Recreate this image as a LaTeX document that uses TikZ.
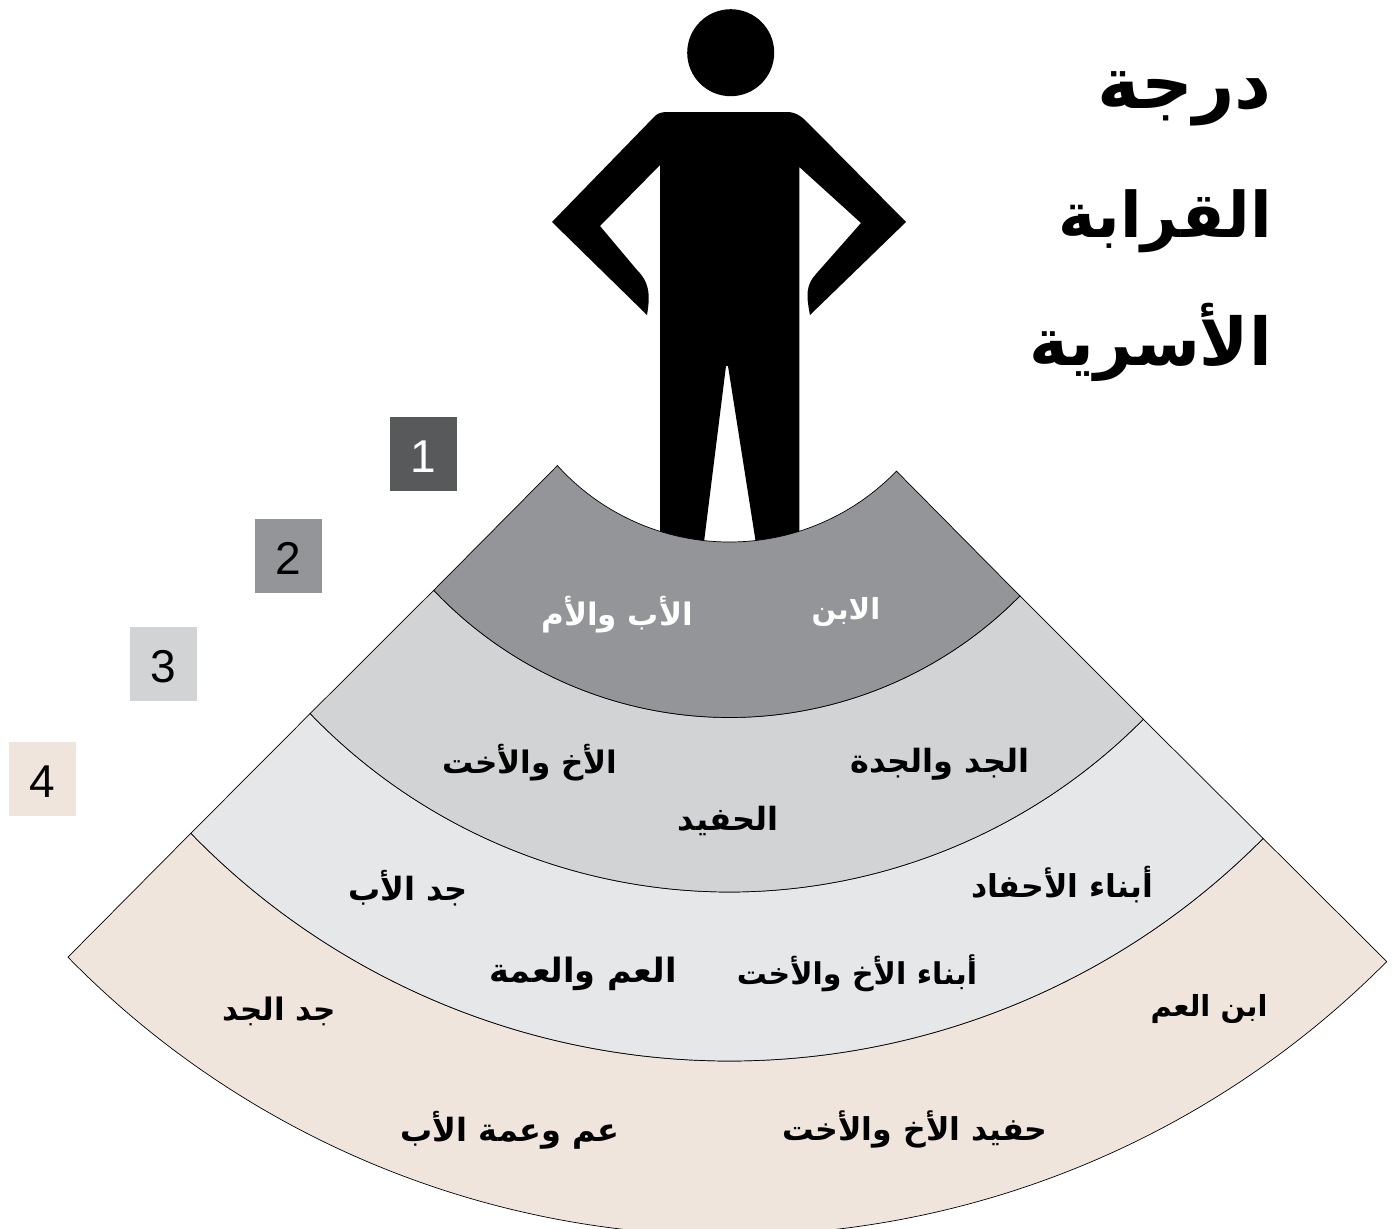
\documentclass[tikz,border=0pt]{standalone}
\usepackage{fontspec}
\setmainfont{Liberation Sans}
\newfontfamily\arabicfont[Script=Arabic]{DejaVu Sans}
\TeXXeTstate=1
\newcommand{\artxt}[1]{{\arabicfont\bfseries\beginR #1\endR}}
\definecolor{bandA}{HTML}{939598}
\definecolor{bandB}{HTML}{D1D3D4}
\definecolor{bandC}{HTML}{E6E7E8}
\definecolor{bandD}{HTML}{EFE5DC}
\definecolor{boxA}{HTML}{58595B}
\newcommand{\fanband}[7]{%
  \path[bandline,fill=#1] (#2:#4) arc[start angle=#2,end angle=#3,radius=#4 pt]
    -- (#6:#7) arc[start angle=#6,end angle=#5,radius=#7 pt] -- cycle;}
\tikzset{
  bandline/.style={draw=black,line width=0.7pt,line join=miter},
  numbox/.style={minimum width=67pt,minimum height=74pt,inner sep=0pt,text height=36pt,text depth=0pt,font=\fontsize{46}{46}\selectfont},
  lab/.style={inner sep=0pt,font=\fontsize{#1}{#1}\selectfont},
  titleline/.style={inner sep=0pt,anchor=base east,font=\fontsize{#1}{#1}\selectfont}
}
\begin{document}
\begin{tikzpicture}[x=1pt,y=1pt,yscale=-1]
\useasboundingbox (0,0) rectangle (1393,1229);
\fill[white] (0,0) rectangle (1393,1229);
% silhouette
\fill[black] (730.7,52.7) circle[radius=43.5pt];
\fill[black] (668,112) -- (787,112) .. controls (797,112) and (803,118) .. (808,123)
  -- (906,222) -- (810,315) .. controls (806,295) and (806,285) .. (816,274)
  -- (861,223) -- (799.3,167) -- (799.3,550) -- (757,550) -- (728,366) -- (726,366)
  -- (703,550) -- (660,550) -- (660,165) -- (600,226) -- (637,270)
  .. controls (648,281) and (651,292) .. (647,315) -- (552,222) -- (655,116)
  .. controls (658,113) and (662,112) .. (668,112) -- cycle;
% fan
\begin{scope}[shift={(729.5,310)}]
\fanband{bandD}{135.63}{44.75}{925.5}{135.83}{44.72}{751}
\fanband{bandC}{135.83}{44.72}{751}{136.10}{44.68}{582}
\fanband{bandB}{136.10}{44.68}{582}{136.54}{44.55}{407.5}
\fanband{bandA}{136.54}{44.55}{407.5}{137.89}{43.98}{232}
\end{scope}
% number boxes
\node[numbox,fill=boxA,text=white] (n1) at (423.5,454) {1};
\node[numbox,fill=bandA] (n2) at (288.5,556) {2};
\node[numbox,fill=bandB] (n3) at (163.5,664) {3};
\node[numbox,fill=bandD] (n4) at (42.5,779) {4};
% title
\node[titleline=72] (t1) at (1272,108) {\artxt{درجة}};
\node[titleline=63] (t2) at (1272,237) {\artxt{القرابة}};
\node[titleline=66] (t3) at (1272,365) {\artxt{الأسرية}};
% labels
\node[lab=29,text=white] (l1) at (846,612) {\artxt{الابن}};
\node[lab=31,text=white] (l2) at (617,615) {\artxt{الأب والأم}};
\node[lab=32] (l3) at (940,764) {\artxt{الجد والجدة}};
\node[lab=31] (l4) at (530,763) {\artxt{الأخ والأخت}};
\node[lab=32] (l5) at (728,821) {\artxt{الحفيد}};
\node[lab=32] (l6) at (408,888) {\artxt{جد الأب}};
\node[lab=31.5] (l7) at (1062,885) {\artxt{أبناء الأحفاد}};
\node[lab=30] (l8) at (857,973) {\artxt{أبناء الأخ والأخت}};
\node[lab=33.5] (l9) at (583,974) {\artxt{العم والعمة}};
\node[lab=31] (l10) at (279,1011) {\artxt{جد الجد}};
\node[lab=29] (l11) at (1209,1009) {\artxt{ابن العم}};
\node[lab=32] (l12) at (510,1130) {\artxt{عم وعمة الأب}};
\node[lab=31.5] (l13) at (915,1129) {\artxt{حفيد الأخ والأخت}};
\end{tikzpicture}
\end{document}
